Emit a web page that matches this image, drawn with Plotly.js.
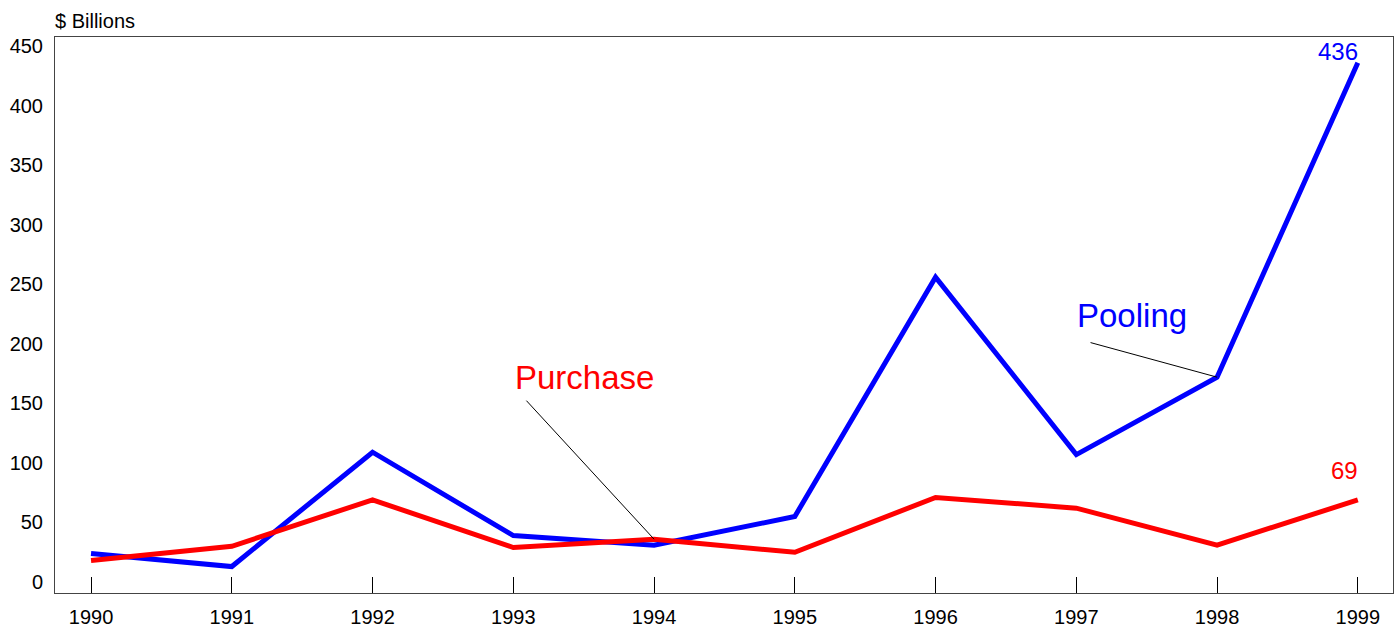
<!DOCTYPE html>
<html>
<head>
<meta charset="utf-8">
<script src="https://cdn.plot.ly/plotly-3.0.1.min.js"></script>
<style>html,body{margin:0;padding:0;background:#fff;}#chart{width:1398px;height:629px;}</style>
</head>
<body>
<div id="chart"></div>
<script>
var years = [1990, 1991, 1992, 1993, 1994, 1995, 1996, 1997, 1998, 1999];
var pooling = [24, 13, 109, 39, 31, 55, 256, 107, 172, 436];
var purchase = [18, 30, 69, 29, 36, 25, 71, 62, 31, 69];
var yTicks = [0, 50, 100, 150, 200, 250, 300, 350, 400, 450];
var seriesNames = ["Pooling", "Purchase"];
var yUnit = "$ Billions";

var font = "Liberation Sans, Arial, sans-serif";
var last = years.length - 1;

var traces = [
  {x: years, y: pooling, name: seriesNames[0], type: "scatter", mode: "lines",
   line: {color: "#0000ff", width: 5}},
  {x: years, y: purchase, name: seriesNames[1], type: "scatter", mode: "lines",
   line: {color: "#ff0000", width: 5}}
];

var layout = {
  width: 1398, height: 629,
  margin: {l: 55, r: 5, t: 37, b: 36},
  paper_bgcolor: "#fff", plot_bgcolor: "#fff",
  showlegend: false,
  font: {family: font, size: 20, color: "#000"},
  xaxis: {
    range: [1989.744, 1999.25], tickvals: years, ticktext: years.map(String),
    ticks: "inside", ticklen: 16, tickwidth: 1, tickcolor: "#000",
    showline: true, linecolor: "#444", linewidth: 1, mirror: true,
    showgrid: false, zeroline: false, ticklabelstandoff: 6,
    tickfont: {family: font, size: 20, color: "#000"}
  },
  yaxis: {
    range: [-9.2, 457.6], tickvals: yTicks, ticks: "",
    showline: true, linecolor: "#444", linewidth: 1, mirror: true,
    showgrid: false, zeroline: false, ticklabelstandoff: 7,
    tickfont: {family: font, size: 20, color: "#000"}
  },
  annotations: [
    {xref: "paper", yref: "paper", x: 0, y: 1, xanchor: "left", yanchor: "bottom",
     yshift: 3, xshift: -2, text: yUnit, showarrow: false, font: {family: font, size: 20, color: "#000"}},
    {x: years[last], y: pooling[last], text: String(pooling[last]), showarrow: false,
     xanchor: "right", yanchor: "middle", xshift: 2, yshift: 11,
     font: {family: font, size: 24, color: "#0000ff"}},
    {x: years[last], y: purchase[last], text: String(purchase[last]), showarrow: false,
     xanchor: "right", yanchor: "middle", xshift: 2, yshift: 29,
     font: {family: font, size: 24, color: "#ff0000"}},
    {x: years[4], y: purchase[4], text: "", showarrow: true, arrowhead: 0,
     arrowwidth: 1, arrowcolor: "#000", ax: -129, ay: -140, standoff: 0},
    {x: years[4], y: purchase[4], text: seriesNames[1], showarrow: false,
     xanchor: "center", yanchor: "middle", xshift: -70, yshift: 162,
     font: {family: font, size: 33, color: "#ff0000"}},
    {x: years[8], y: pooling[8], text: "", showarrow: true, arrowhead: 0,
     arrowwidth: 1, arrowcolor: "#000", ax: -128, ay: -35, standoff: 0},
    {x: years[8], y: pooling[8], text: seriesNames[0], showarrow: false,
     xanchor: "center", yanchor: "middle", xshift: -85, yshift: 62,
     font: {family: font, size: 33, color: "#0000ff"}}
  ]
};

Plotly.newPlot("chart", traces, layout, {displayModeBar: false, staticPlot: true});
</script>
</body>
</html>
